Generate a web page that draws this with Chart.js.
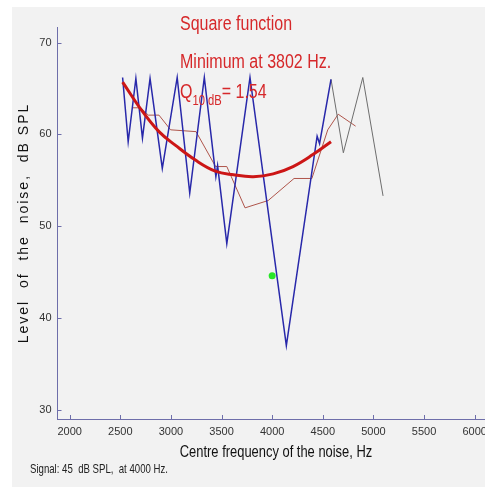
<!DOCTYPE html>
<html>
<head>
<meta charset="utf-8">
<script src="https://cdn.jsdelivr.net/npm/chart.js@4/dist/chart.umd.min.js"></script>
<style>
html, body { margin: 0; padding: 0; background: #fff; overflow: hidden; }
</style>
</head>
<body>
<canvas id="grafica" width="520" height="487"></canvas>
<script>
// staircase track (blue), continued in gray after 4600 Hz
const blueHz = [2523, 2578, 2654, 2719, 2794, 2915, 3062, 3186, 3330, 3444, 3461, 3552, 3781, 4140, 4444, 4468, 4581];
const blueDb = [66.2, 59.2, 66.1, 59.6, 66.1, 56.3, 66.2, 53.6, 66.2, 55.4, 56.6, 48.1, 66.2, 37.0, 59.8, 59.0, 66.0];
const grayHz = [4581, 4703, 4895, 5095];
const grayDb = [66.0, 58.0, 66.2, 53.3];
// smoothed track (thin brown)
const brownHz = [2620, 2703, 2777, 2882, 2997, 3248, 3441, 3552, 3732, 3961, 4216, 4392, 4549, 4652, 4824];
const brownDb = [62.9, 62.9, 62.1, 62.1, 60.5, 60.3, 56.5, 56.5, 52.0, 52.8, 55.2, 55.2, 60.5, 62.2, 60.9];
// square function fit (thick red)
const fitHz = [2523, 2719, 2882, 3046, 3242, 3438, 3618, 3814, 4010, 4206, 4402, 4581];
const fitDb = [65.7, 62.5, 60.3, 58.8, 57.2, 56.0, 55.6, 55.4, 55.7, 56.5, 57.8, 59.2];
// signal
const signalHz = [4000];
const signalDb = [44.6];

const xTicks = [2000, 2500, 3000, 3500, 4000, 4500, 5000, 5500, 6000];
const yTicks = [30, 40, 50, 60, 70];

const fuente = "'Liberation Sans', Arial, sans-serif";
const axisColor = 'rgb(110,110,170)';
const textRed = 'rgb(214,40,42)';

const pares = (xs, ys) => xs.map((x, i) => ({ x: x, y: ys[i] }));

// no narrow font installed: squeeze the text horizontally
function angosto(ctx, s, x, y, size, sx, align) {
    ctx.save();
    ctx.font = size + 'px ' + fuente;
    const w = ctx.measureText(s).width * sx;
    let x0 = x;
    if (align === 'center') x0 = x - w / 2;
    ctx.translate(x0, y);
    ctx.scale(sx, 1);
    ctx.textAlign = 'left';
    ctx.fillText(s, 0, 0);
    ctx.restore();
    return w;
}

const fondo = {
    id: 'fondo',
    beforeDraw(chart) {
        const ctx = chart.ctx;
        ctx.save();
        ctx.fillStyle = '#fff';
        ctx.fillRect(0, 0, chart.width, chart.height);
        ctx.fillStyle = '#f2f2f2';
        ctx.fillRect(12, 7, chart.width - 12, chart.height - 7);
        ctx.restore();
    }
};

// small tick marks pointing into the plot
const marcas = {
    id: 'marcas',
    afterDraw(chart) {
        const ctx = chart.ctx;
        const x = chart.scales.x, y = chart.scales.y;
        ctx.save();
        ctx.strokeStyle = axisColor;
        ctx.lineWidth = 1;
        ctx.beginPath();
        xTicks.forEach(v => {
            const px = Math.round(x.getPixelForValue(v)) + 0.5;
            ctx.moveTo(px, y.bottom);
            ctx.lineTo(px, y.bottom - 4);
        });
        yTicks.forEach(v => {
            const py = Math.round(y.getPixelForValue(v)) + 0.5;
            ctx.moveTo(x.left, py);
            ctx.lineTo(x.left + 4, py);
        });
        ctx.stroke();
        ctx.restore();
    }
};

const textos = {
    id: 'textos',
    afterDraw(chart) {
        const ctx = chart.ctx;
        ctx.save();
        ctx.textBaseline = 'alphabetic';

        // annotation
        ctx.fillStyle = textRed;
        angosto(ctx, 'Square function', 180, 30, 20, 0.8);
        angosto(ctx, 'Minimum at 3802 Hz.', 180, 68, 20, 0.8);
        let w = angosto(ctx, 'Q', 180, 98, 20, 0.8);
        w += angosto(ctx, '10 dB', 180 + w, 105, 14, 0.8);
        angosto(ctx, '= 1.54', 180 + w, 98, 20, 0.8);

        // axis titles
        ctx.fillStyle = '#111';
        const xs = chart.scales.x;
        angosto(ctx, 'Centre frequency of the noise, Hz', 276, 457, 17, 0.76, 'center');

        const ys = chart.scales.y;
        ctx.save();
        ctx.translate(28, (ys.top + ys.bottom) / 2);
        ctx.rotate(-Math.PI / 2);
        ctx.font = '14px ' + fuente;
        ctx.letterSpacing = '2px';
        ctx.textAlign = 'center';
        ctx.fillText('Level  of  the  noise,  dB SPL', 0, 0);
        ctx.restore();

        // footer
        ctx.fillStyle = '#222';
        angosto(ctx, 'Signal: 45  dB SPL,  at 4000 Hz.', 30, 473, 13, 0.74);
        ctx.restore();
    }
};

const ctx = document.getElementById('grafica').getContext('2d');

const myChart = new Chart(ctx, {
    type: 'scatter',
    data: {
        datasets: [
            {
                label: 'Signal',
                data: pares(signalHz, signalDb),
                backgroundColor: 'rgb(40,230,40)',
                borderWidth: 0,
                pointRadius: 3.5
            },
            {
                label: 'Square function',
                data: pares(fitHz, fitDb),
                showLine: true,
                borderColor: 'rgb(204,22,22)',
                borderWidth: 3,
                tension: 0.4,
                pointRadius: 0
            },
            {
                label: 'Track',
                data: pares(blueHz, blueDb),
                showLine: true,
                borderColor: 'rgb(40,40,170)',
                borderWidth: 1.5,
                pointRadius: 0
            },
            {
                label: 'Track (cont.)',
                data: pares(grayHz, grayDb),
                showLine: true,
                borderColor: 'rgb(110,110,110)',
                borderWidth: 1,
                pointRadius: 0
            },
            {
                label: 'Average',
                data: pares(brownHz, brownDb),
                showLine: true,
                borderColor: 'rgb(175,85,75)',
                borderWidth: 1,
                pointRadius: 0
            }
        ]
    },
    options: {
        responsive: false,
        animation: false,
        layout: {
            padding: { left: 12, top: 27, right: 0, bottom: 26 }
        },
        plugins: {
            legend: { display: false },
            tooltip: { enabled: false }
        },
        scales: {
            x: {
                type: 'linear',
                min: 1880,
                max: 6408,
                afterBuildTicks: s => { s.ticks = xTicks.map(v => ({ value: v })); },
                afterFit: s => { s.height = 42; },
                grid: { display: false, drawTicks: false },
                border: { color: axisColor, width: 1 },
                ticks: {
                    padding: 6,
                    maxRotation: 0,
                    autoSkip: false,
                    color: '#333',
                    font: { family: fuente, size: 11 },
                    callback: v => String(v)
                }
            },
            y: {
                min: 29.0,
                max: 71.7,
                afterBuildTicks: s => { s.ticks = yTicks.map(v => ({ value: v })); },
                afterFit: s => { s.width = 45.5; },
                grid: { display: false, drawTicks: false },
                border: { color: axisColor, width: 1 },
                ticks: {
                    padding: 6,
                    color: '#333',
                    font: { family: fuente, size: 11 },
                    callback: v => String(v)
                }
            }
        }
    },
    plugins: [fondo, marcas, textos]
});
</script>
</body>
</html>
